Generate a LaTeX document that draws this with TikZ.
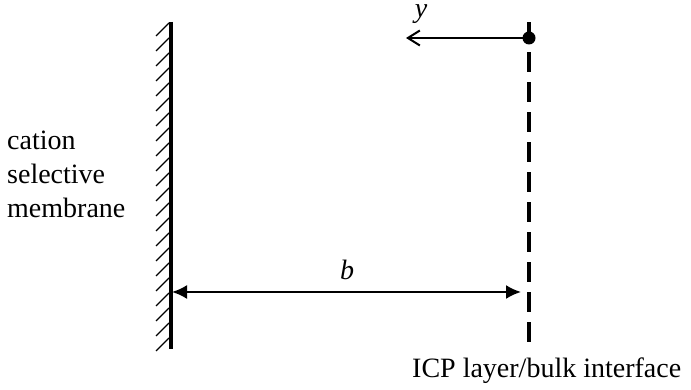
\documentclass[tikz,border=0pt]{standalone}
\usepackage{fontspec}
\setmainfont{Liberation Serif}
\usetikzlibrary{arrows.meta}
\begin{document}
\begin{tikzpicture}[x=1pt,y=1pt,
  lbl/.style={inner sep=0pt,font=\fontsize{28}{34}\selectfont},
  wallline/.style={line width=4pt},
  hatchline/.style={line width=1.4pt},
  iface/.style={line width=4pt,dash pattern=on 20pt off 10pt},
  dimarrow/.style={line width=2pt,{Latex[length=15pt,width=14pt]}-{Latex[length=15pt,width=14pt]}},
  yarrow/.style={line width=2pt,-{Straight Barb[length=12pt,width=15pt,line width=2pt]}}]
\useasboundingbox (0,0) rectangle (691,390);
% membrane wall
\coordinate (wallTop) at (171,368);
\coordinate (wallBot) at (171,41);
\draw[wallline] (wallTop) -- (wallBot);
\foreach \i in {0,...,21}{
  \draw[hatchline] (169,{367-15*\i}) -- (156,{354-15*\i});
}
% interface
\coordinate (ifTop) at (529,368);
\coordinate (ifBot) at (529,48);
\draw[iface] (ifBot) -- (ifTop);
\fill (529,352) circle (6.5pt) coordinate (dot);
\coordinate (yEnd) at (406,352);
\draw[yarrow] (dot) -- (yEnd);
\node[lbl,anchor=base] (ylab) at (421,372) {\itshape y};
% dimension b
\coordinate (bL) at (172,98);
\coordinate (bR) at (521,98);
\draw[dimarrow] (bL) -- (bR);
\node[lbl,anchor=base] (blab) at (347,110) {\itshape b};
% labels
\node[lbl,anchor=base west,align=left] (mem) at (7,172) {cation\\selective\\membrane};
\node[lbl,anchor=base west] (icp) at (412,12) {ICP layer/bulk interface};
\end{tikzpicture}
\end{document}
